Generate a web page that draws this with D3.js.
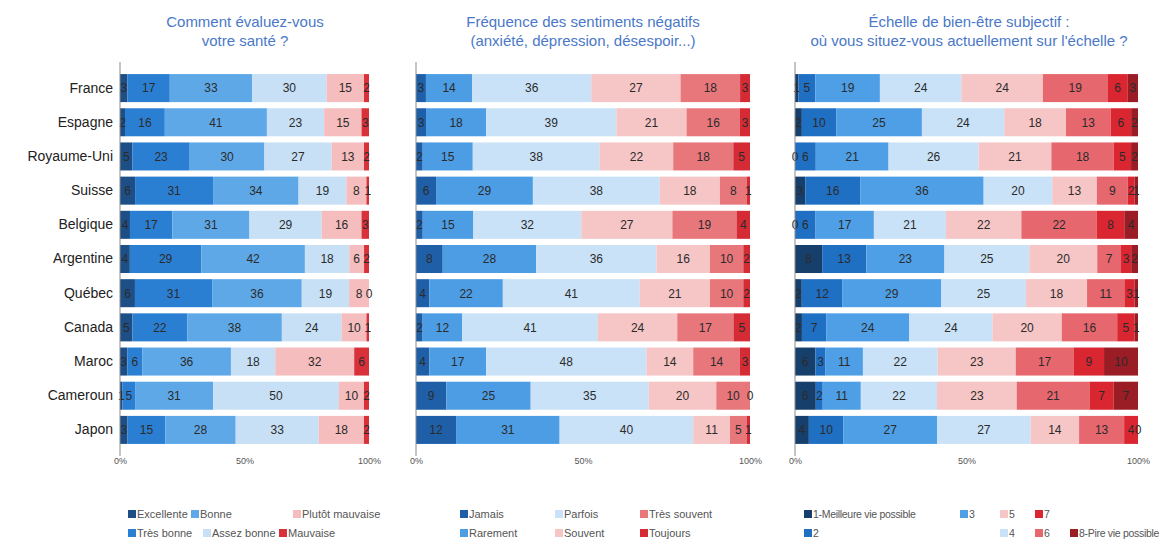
<!DOCTYPE html>
<html>
<head>
<meta charset="utf-8">
<script src="https://cdn.jsdelivr.net/npm/d3@7"></script>
<style>
  html, body { margin: 0; padding: 0; background: #ffffff; }
  svg { display: block; font-family: "Liberation Sans", Arial, sans-serif; }
</style>
</head>
<body>
<svg id="chart" width="1159" height="544"></svg>
<script>
// ---------------- DATA ----------------
const countries = ["France","Espagne","Royaume-Uni","Suisse","Belgique","Argentine","Québec","Canada","Maroc","Cameroun","Japon"];

const healthTitle = ["Comment évaluez-vous", "votre santé ?"];
const healthCategories = ["Excellente","Très bonne","Bonne","Assez bonne","Plutôt mauvaise","Mauvaise"];
const healthValues = [
  [3,17,33,30,15,2],
  [2,16,41,23,15,3],
  [5,23,30,27,13,2],
  [6,31,34,19,8,1],
  [4,17,31,29,16,3],
  [4,29,42,18,6,2],
  [6,31,36,19,8,0],
  [5,22,38,24,10,1],
  [3,6,36,18,32,6],
  [1,5,31,50,10,2],
  [3,15,28,33,18,2]
];

const feelingTitle = ["Fréquence des sentiments négatifs", "(anxiété, dépression, désespoir...)"];
const feelingCategories = ["Jamais","Rarement","Parfois","Souvent","Très souvent","Toujours"];
const feelingValues = [
  [3,14,36,27,18,3],
  [3,18,39,21,16,3],
  [2,15,38,22,18,5],
  [6,29,38,18,8,1],
  [2,15,32,27,19,4],
  [8,28,36,16,10,2],
  [4,22,41,21,10,2],
  [2,12,41,24,17,5],
  [4,17,48,14,14,3],
  [9,25,35,20,10,0],
  [12,31,40,11,5,1]
];

const wellbeingTitle = ["Échelle de bien-être subjectif :", "où vous situez-vous actuellement sur l'échelle ?"];
const wellbeingCategories = ["1-Meilleure vie possible","2","3","4","5","6","7","8-Pire vie possible"];
const wellbeingValues = [
  [1,5,19,24,24,19,6,3],
  [2,10,25,24,18,13,6,2],
  [0,6,21,26,21,18,5,2],
  [3,16,36,20,13,9,2,1],
  [0,6,17,21,22,22,8,4],
  [8,13,23,25,20,7,3,2],
  [2,12,29,25,18,11,3,1],
  [2,7,24,24,20,16,5,1],
  [6,3,11,22,23,17,9,10],
  [6,2,11,22,23,21,7,7],
  [4,10,27,27,14,13,4,0]
];

const axisTicks = [0, 0.5, 1];

// ---------------- STYLE / LAYOUT ----------------
const healthColors = ["#1d4f86","#2b7fd3","#5ea8e8","#c7e0f6","#f5bdbd","#d8313a"];
const feelingColors = ["#1f5fa8","#4c9de4","#c9e2f7","#f6c5c5","#e8777c","#d42b35"];
const wellbeingColors = ["#173f6b","#1f6fc3","#4e9fe5","#c9e2f7","#f6c5c5","#e6676e","#da2631","#9a1c25"];

const panels = [
  { title: healthTitle, cats: healthCategories, values: healthValues, colors: healthColors,
    x0: 120, x1: 369, titleX: 245, legendFont: 11, legendSpacing: 0,
    legend: [[132,518],[132,537],[195,518],[207,537],[297,518],[283,537]] },
  { title: feelingTitle, cats: feelingCategories, values: feelingValues, colors: feelingColors,
    x0: 416, x1: 750, titleX: 583, legendFont: 11, legendSpacing: 0,
    legend: [[464,518],[464,537],[559,518],[559,537],[644,518],[644,537]] },
  { title: wellbeingTitle, cats: wellbeingCategories, values: wellbeingValues, colors: wellbeingColors,
    x0: 795, x1: 1138, titleX: 969, legendFont: 10.5, legendSpacing: -0.3,
    legend: [[808,518],[808,537],[964,518],[1004,537],[1004,518],[1039,537],[1039,518],[1074,537]] }
];

const svg = d3.select("#chart");

const y = d3.scaleBand()
  .domain(countries)
  .range([71, 447])
  .paddingInner(0.18)
  .paddingOuter(0.09);

panels.forEach((p, pi) => {
  const g = svg.append("g");
  const x = d3.scaleLinear().domain([0, 1]).range([p.x0, p.x1]);
  const keys = p.cats.map((c, i) => i);
  const rows = countries.map((c, ri) => {
    const o = { country: c };
    p.values[ri].forEach((v, i) => o[i] = v);
    return o;
  });
  const series = d3.stack().keys(keys).offset(d3.stackOffsetExpand)(rows);

  // title
  g.append("text")
    .attr("x", p.titleX).attr("y", 27)
    .attr("text-anchor", "middle")
    .attr("font-size", 15).attr("fill", "#4a78c8")
    .selectAll("tspan").data(p.title).join("tspan")
    .attr("x", p.titleX).attr("dy", (d, i) => i === 0 ? 0 : 19)
    .text(d => d);

  // bars
  series.forEach((s, si) => {
    const sg = g.append("g").attr("fill", p.colors[si]);
    sg.selectAll("rect").data(s).join("rect")
      .attr("x", d => x(d[0]))
      .attr("y", d => y(d.data.country))
      .attr("width", d => Math.max(0, x(d[1]) - x(d[0])))
      .attr("height", y.bandwidth());
  });

  // value labels
  series.forEach((s, si) => {
    g.append("g").selectAll("text").data(s).join("text")
      .attr("x", d => (x(d[0]) + x(d[1])) / 2)
      .attr("y", d => y(d.data.country) + y.bandwidth() / 2)
      .attr("dy", "0.36em")
      .attr("text-anchor", "middle")
      .attr("font-size", 12).attr("fill", "#2b2b2b")
      .text(d => d.data[si]);
  });

  // vertical axis line
  g.append("line")
    .attr("x1", p.x0).attr("x2", p.x0)
    .attr("y1", 62).attr("y2", 456)
    .attr("stroke", "#8a8a8a").attr("stroke-width", 1);

  // country labels (left axis)
  if (pi === 0) {
    const ay = d3.axisLeft(y).tickSize(0).tickPadding(7);
    const ag = g.append("g").attr("transform", `translate(${p.x0},0)`).call(ay);
    ag.select(".domain").remove();
    ag.selectAll("text").attr("font-size", 14).attr("fill", "#222")
      .attr("font-family", "'Liberation Sans', Arial, sans-serif");
  }

  // bottom axis
  const ax = d3.axisBottom(x).tickValues(axisTicks).tickFormat(d3.format(".0%")).tickSize(0).tickPadding(3);
  const bg = g.append("g").attr("transform", `translate(0,455)`).call(ax);
  bg.select(".domain").remove();
  bg.selectAll("text").attr("font-size", 9).attr("fill", "#555")
    .attr("font-family", "'Liberation Sans', Arial, sans-serif");

  // legend
  const lg = g.append("g");
  p.cats.forEach((c, i) => {
    const [lx, ly] = p.legend[i];
    lg.append("rect").attr("x", lx - 4).attr("y", ly - 8).attr("width", 8).attr("height", 8)
      .attr("fill", p.colors[i]);
    lg.append("text").attr("x", lx + 5).attr("y", ly)
      .attr("font-size", p.legendFont).attr("letter-spacing", p.legendSpacing)
      .attr("fill", "#555").text(c);
  });
});
</script>
</body>
</html>
